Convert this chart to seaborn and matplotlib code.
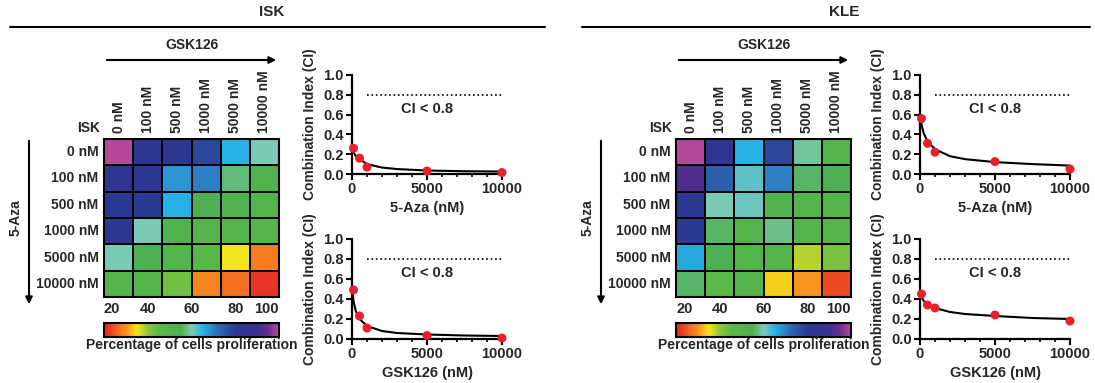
import numpy as np
import pandas as pd
import matplotlib
matplotlib.use('Agg')
import matplotlib.pyplot as plt
import seaborn as sns
from matplotlib.colors import LinearSegmentedColormap
from matplotlib.patches import FancyArrowPatch
from matplotlib.lines import Line2D
from matplotlib.ticker import MultipleLocator, FormatStrFormatter

sns.set_theme(style='white')
plt.rcParams['font.family'] = ['Liberation Sans', 'DejaVu Sans']
plt.rcParams['font.weight'] = 'bold'
plt.rcParams['axes.labelweight'] = 'bold'

# 浓度标签
doses = ['0 nM', '100 nM', '500 nM', '1000 nM', '5000 nM', '10000 nM']
ci_doses = [100, 500, 1000, 5000, 10000]
cbar_ticks = [20, 40, 60, 80, 100]

# 增殖百分比 (行: 5-Aza, 列: GSK126)
isk_prolif = [
    [100, 82, 82, 78, 65, 60],
    [83, 82, 68, 70, 57, 53],
    [80, 80, 65, 55, 52, 50],
    [81, 60, 53, 50, 50, 50],
    [60, 55, 50, 47, 35, 28],
    [50, 50, 43, 29, 27, 22],
]
kle_prolif = [
    [100, 84, 65, 78, 59, 50],
    [92, 74, 62, 70, 56, 55],
    [80, 60, 61, 52, 50, 50],
    [80, 56, 50, 58, 50, 50],
    [66, 55, 50, 50, 38, 42],
    [56, 45, 50, 34, 30, 24],
]

# CI 数据点
isk_ci_aza = [0.26, 0.16, 0.07, 0.03, 0.015]
isk_ci_gsk = [0.49, 0.23, 0.11, 0.035, 0.01]
kle_ci_aza = [0.56, 0.31, 0.22, 0.125, 0.05]
kle_ci_gsk = [0.45, 0.34, 0.31, 0.24, 0.18]

# 拟合曲线
fit_x = [50, 100, 250, 500, 1000, 2000, 3000, 5000, 7500, 10000]
isk_fit_aza = [0.24, 0.22, 0.18, 0.15, 0.10, 0.065, 0.05, 0.035, 0.028, 0.025]
isk_fit_gsk = [0.46, 0.38, 0.28, 0.20, 0.13, 0.08, 0.06, 0.045, 0.035, 0.03]
kle_fit_aza = [0.55, 0.50, 0.41, 0.33, 0.25, 0.18, 0.15, 0.12, 0.10, 0.085]
kle_fit_gsk = [0.44, 0.42, 0.38, 0.35, 0.31, 0.27, 0.25, 0.23, 0.21, 0.20]

cmap_stops = [(20, '#e31e24'), (26, '#f26522'), (30, '#f7941d'), (35, '#f3e31b'),
              (40, '#8dc63f'), (45, '#5bb947'), (55, '#4cb050'), (60, '#7ecbb4'),
              (65, '#27b4e6'), (72, '#2e6db5'), (80, '#2b3990'), (90, '#3b2f8f'),
              (95, '#6a2c91'), (100, '#b5489c')]
cmap = LinearSegmentedColormap.from_list(
    'prolif', [((v - 20) / 80, c) for v, c in cmap_stops])

RED = '#e8202a'
W, H = 1095, 383
fig = plt.figure(figsize=(W / 100, H / 100), dpi=100)


def px_axes(x0, y0, x1, y1):
    return fig.add_axes([x0 / W, 1 - y1 / H, (x1 - x0) / W, (y1 - y0) / H])


def ftext(x, y, s, **kw):
    fig.text(x / W, 1 - y / H, s, fontweight='bold', **kw)


def farrow(x0, y0, x1, y1):
    fig.add_artist(FancyArrowPatch((x0 / W, 1 - y0 / H), (x1 / W, 1 - y1 / H),
                                   transform=fig.transFigure, arrowstyle='-|>',
                                   mutation_scale=10, lw=1.5, color='black'))


def ci_plot(ax, pts, fit, xlabel):
    sns.lineplot(x=fit_x, y=fit, ax=ax, color='black', lw=1.5)
    sns.scatterplot(x=ci_doses, y=pts, ax=ax, color=RED, s=42,
                    edgecolor='none', zorder=3, clip_on=False)
    ax.plot([1000, 10000], [0.8, 0.8], ls=':', color='black', lw=1.2)
    ax.text(5000, 0.66, 'CI < 0.8', ha='center', va='center', fontsize=10.5,
            fontweight='bold')
    ax.set_xlim(0, 10000)
    ax.set_ylim(0, 1)
    ax.set_xticks([0, 5000, 10000])
    ax.xaxis.set_minor_locator(MultipleLocator(1000))
    ax.set_yticks([0, 0.2, 0.4, 0.6, 0.8, 1.0])
    ax.yaxis.set_major_formatter(FormatStrFormatter('%.1f'))
    sns.despine(ax=ax)
    for s in ['left', 'bottom']:
        ax.spines[s].set_linewidth(1.6)
        ax.spines[s].set_color('black')
    ax.tick_params(which='major', length=4, width=1.5, labelsize=10.5, pad=2,
                   color='black', bottom=True, left=True)
    ax.tick_params(which='minor', axis='x', length=2.5, width=1.2, color='black',
                   bottom=True)
    ax.set_xlabel(xlabel, fontsize=10.5, labelpad=3)
    ax.set_ylabel('Combination Index (CI)', fontsize=10, labelpad=4)
    for lab in ax.get_xticklabels() + ax.get_yticklabels():
        lab.set_fontweight('bold')


def panel(dx, ci_x0, title, prolif, ci_aza, fit_aza, ci_gsk, fit_gsk, line_x):
    # 标题与分隔线
    ftext(272 + dx, 12, title, ha='center', va='center', fontsize=11)
    fig.add_artist(Line2D([line_x[0] / W, line_x[1] / W], [1 - 27 / H, 1 - 27 / H],
                          transform=fig.transFigure, color='black', lw=1.5))
    ftext(192 + dx, 45, 'GSK126', ha='center', va='center', fontsize=10)
    farrow(104 + dx, 60, 279 + dx, 60)
    ftext(16 + dx, 218, '5-Aza', ha='center', va='center', fontsize=10, rotation=90)
    farrow(29 + dx, 138, 29 + dx, 307)
    ftext(100 + dx, 128, 'ISK', ha='right', va='center', fontsize=10)

    ax = px_axes(104 + dx, 139, 279 + dx, 297)
    cax = px_axes(104 + dx, 323, 279 + dx, 337)
    df = pd.DataFrame(prolif, index=doses, columns=doses)
    sns.heatmap(df, ax=ax, cmap=cmap, vmin=20, vmax=100, linewidths=1.2,
                linecolor='black', cbar_ax=cax,
                cbar_kws=dict(orientation='horizontal', ticks=cbar_ticks))
    ax.xaxis.tick_top()
    ax.set_xticklabels(doses, rotation=90, fontsize=10, fontweight='bold')
    ax.set_yticklabels(doses, rotation=0, fontsize=10, fontweight='bold')
    ax.tick_params(length=0, pad=4)
    for sp in ax.spines.values():
        sp.set_visible(True)
        sp.set_linewidth(1.5)
        sp.set_color('black')

    cbar = ax.collections[0].colorbar
    cbar.outline.set_linewidth(1.5)
    cbar.outline.set_edgecolor('black')
    cax.xaxis.set_ticks_position('top')
    cax.tick_params(direction='in', length=2, width=1.2, labelsize=10.5, pad=5,
                    color='black')
    labs = cax.get_xticklabels()
    for lab in labs:
        lab.set_fontweight('bold')
    labs[0].set_ha('left')
    labs[-1].set_ha('right')
    cax.xaxis.set_label_position('bottom')
    cax.set_xlabel('Percentage of cells proliferation', fontsize=10,
                   fontweight='bold', labelpad=1)

    ax1 = px_axes(ci_x0, 75, ci_x0 + 150, 174)
    ci_plot(ax1, ci_aza, fit_aza, '5-Aza (nM)')
    ax2 = px_axes(ci_x0, 239, ci_x0 + 150, 339)
    ci_plot(ax2, ci_gsk, fit_gsk, 'GSK126 (nM)')


panel(0, 352, 'ISK', isk_prolif, isk_ci_aza, isk_fit_aza, isk_ci_gsk, isk_fit_gsk,
      (10, 545))
panel(572, 920, 'KLE', kle_prolif, kle_ci_aza, kle_fit_aza, kle_ci_gsk, kle_fit_gsk,
      (582, 1090))

fig.savefig('out.png', dpi=100)
